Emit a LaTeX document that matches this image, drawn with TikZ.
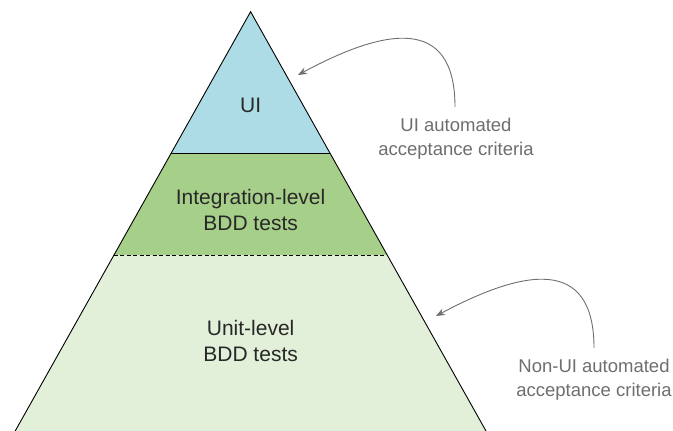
\documentclass[tikz,border=0pt]{standalone}
\usepackage{fontspec}
\setmainfont{Liberation Sans}
\usetikzlibrary{arrows.meta}
\definecolor{uiblue}{RGB}{173,219,230}
\definecolor{intgreen}{RGB}{166,207,137}
\definecolor{unitgreen}{RGB}{226,239,217}
\definecolor{txtdark}{RGB}{40,40,40}
\definecolor{txtgray}{RGB}{110,110,110}
\definecolor{arrgray}{RGB}{110,110,110}
\tikzset{
  layer/.style={draw=none},
  edge/.style={draw=black, line width=0.9pt},
  lbl/.style={align=center, text=txtdark, font=\fontsize{21}{26}\selectfont, inner sep=0pt},
  note/.style={align=center, text=txtgray, font=\fontsize{18.5}{24}\selectfont, inner sep=0pt},
  callout/.style={draw=arrgray, line width=0.9pt, -{Stealth[length=9pt,width=7pt]}}
}
\begin{document}
\begin{tikzpicture}[x=1pt,y=-1pt]
\useasboundingbox (0,0) rectangle (673,431);
\coordinate (apex) at (250.6,11.7);
\coordinate (uiR) at (330.2,153.7);
\coordinate (uiL) at (171.0,153.7);
\coordinate (inR) at (387.5,255.3);
\coordinate (inL) at (113.7,255.3);
\coordinate (bR) at (486.0,431);
\coordinate (bL) at (15.2,431);
\fill[uiblue] (apex) -- (uiR) -- (uiL) -- cycle;
\fill[intgreen] (uiL) -- (uiR) -- (inR) -- (inL) -- cycle;
\fill[unitgreen] (inL) -- (inR) -- (bR) -- (bL) -- cycle;
\draw[edge] (bL) -- (apex) -- (bR);
\draw[edge] (uiL) -- (uiR);
\draw[edge, dashed, dash pattern=on 4pt off 2.5pt] (inL) -- (inR);
\node[lbl] (ui) at (250.6,105) {UI};
\node[lbl] (integ) at (250.6,210) {Integration-level\\BDD tests};
\node[lbl] (unit) at (250.6,341) {Unit-level\\BDD tests};
\node[note] (n1) at (456,139) {UI automated\\acceptance criteria};
\node[note] (n2) at (594,380) {Non-UI automated\\acceptance criteria};
\coordinate (s1) at (455,107);
\coordinate (e1) at (298,75);
\coordinate (s2) at (594,348);
\coordinate (e2) at (436,316);
\draw[callout] (s1) .. controls (455,15) and (385,28) .. (e1);
\draw[callout] (s2) .. controls (594,256) and (524,269) .. (e2);
\end{tikzpicture}
\end{document}
